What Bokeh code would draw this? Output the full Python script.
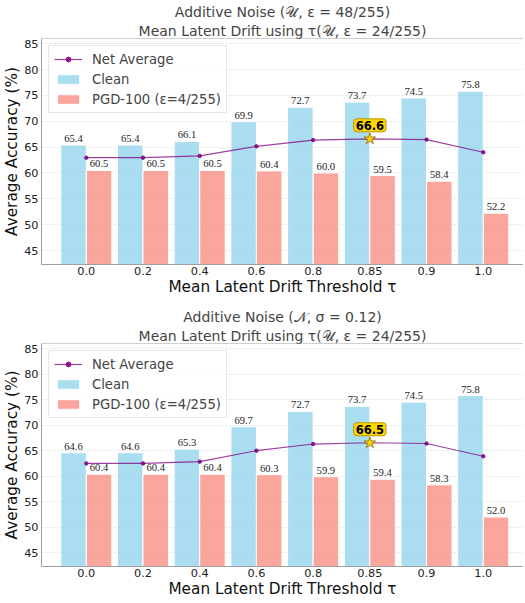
import numpy as np
from bokeh.plotting import figure
from bokeh.models import (ColumnDataSource, Range1d, FixedTicker, LabelSet, Label,
                          Span, Legend, LegendItem, Title)
from bokeh.layouts import column
from bokeh.embed import file_html
from bokeh.resources import INLINE

# ---- data ----
taus = ["0.0", "0.2", "0.4", "0.6", "0.8", "0.85", "0.9", "1.0"]

clean_u = [65.4, 65.4, 66.1, 69.9, 72.7, 73.7, 74.5, 75.8]
pgd_u = [60.5, 60.5, 60.5, 60.4, 60.0, 59.5, 58.4, 52.2]
net_u = [62.95, 62.95, 63.3, 65.15, 66.35, 66.6, 66.45, 64.0]

clean_n = [64.6, 64.6, 65.3, 69.7, 72.7, 73.7, 74.5, 75.8]
pgd_n = [60.4, 60.4, 60.4, 60.3, 59.9, 59.4, 58.3, 52.0]
net_n = [62.5, 62.5, 62.85, 65.0, 66.3, 66.55, 66.4, 63.9]

titles_u = ["Additive Noise (𝒰, ε = 48/255)", "Mean Latent Drift using τ(𝒰, ε = 24/255)"]
titles_n = ["Additive Noise (𝒩, σ = 0.12)", "Mean Latent Drift using τ(𝒰, ε = 24/255)"]
x_label = "Mean Latent Drift Threshold τ"
y_label = "Average Accuracy (%)"

y_ticks = [45, 50, 55, 60, 65, 70, 75, 80, 85]
y_min, y_max = 42.3, 86.0
x_min, x_max = -0.79, 7.71

FONT = "DejaVu Sans"
BLUE = "#87CEEB"
SALMON = "#FA8072"
PURPLE = "#800080"
SPINE = "#a0a0a0"
BAR_W = 0.45


def make_panel(titles, clean, pgd, net, frame_h, top_border):
    idx = np.arange(len(taus))
    p = figure(frame_width=482, frame_height=frame_h, output_backend="svg",
               toolbar_location=None,
               x_range=Range1d(x_min, x_max), y_range=Range1d(y_min, y_max),
               min_border_left=0, min_border_right=0, min_border_top=top_border,
               min_border_bottom=0)
    p.outline_line_color = None
    p.background_fill_color = "white"

    # titles (first added = closest to plot)
    p.title.text = titles[0]
    p.title.align = "center"
    p.title.text_font = FONT
    p.title.text_font_size = "14px"
    p.title.text_font_style = "normal"
    p.title.standoff = 2
    p.title.offset = 0
    t2 = Title(text=titles[1], align="center", text_font=FONT, text_font_size="14px",
               text_font_style="normal", standoff=0, offset=0)
    p.add_layout(t2, "above")

    src = ColumnDataSource(dict(
        xc=idx - BAR_W / 2, xp=idx + BAR_W / 2, x=idx,
        clean=clean, pgd=pgd, net=net,
        lc=[f"{v:.1f}" for v in clean], lp=[f"{v:.1f}" for v in pgd],
    ))

    r_clean = p.vbar(x="xc", top="clean", bottom=y_min - 5, width=BAR_W, source=src,
                     fill_color=BLUE, fill_alpha=0.7, line_color="white", line_width=1)
    r_pgd = p.vbar(x="xp", top="pgd", bottom=y_min - 5, width=BAR_W, source=src,
                   fill_color=SALMON, fill_alpha=0.7, line_color="white", line_width=1)
    r_line = p.line(x="x", y="net", source=src, line_color=PURPLE, line_alpha=0.75, line_width=1.2)
    r_dot = p.scatter(x="x", y="net", source=src, size=3.5, marker="circle",
                      fill_color=PURPLE, line_color=PURPLE, alpha=0.85)

    lab_kw = dict(text_font=FONT, text_font_size="10.6px", text_align="center",
                  text_baseline="bottom", y_offset=3, text_color="#222222")
    p.add_layout(LabelSet(x="xc", y="clean", text="lc", source=src, **lab_kw))
    p.add_layout(LabelSet(x="xp", y="pgd", text="lp", source=src, **lab_kw))

    # best net average
    b = int(np.argmax(net))
    p.scatter(x=[idx[b]], y=[net[b]], marker="star", size=12, fill_color="#FFD700",
              line_color="#8a6d00", line_width=0.8)
    p.add_layout(Label(x=idx[b], y=net[b], text=f"{net[b]:.1f}", y_offset=7,
                       text_align="center", text_baseline="bottom", text_font=FONT,
                       text_font_size="11.5px", text_font_style="bold", text_color="black",
                       background_fill_color="#FFD700", border_line_color="#b8960b",
                       border_line_width=1, padding=2, border_radius=3))

    # axes
    p.xaxis.ticker = FixedTicker(ticks=list(idx))
    p.xaxis.major_label_overrides = {int(i): t for i, t in zip(idx, taus)}
    p.yaxis.ticker = FixedTicker(ticks=y_ticks)
    for ax in (p.xaxis, p.yaxis):
        ax.axis_line_color = SPINE
        ax.axis_line_width = 1
        ax.major_tick_line_color = None
        ax.minor_tick_line_color = None
        ax.major_tick_out = 0
        ax.major_tick_in = 0
        ax.minor_tick_out = 0
        ax.minor_tick_in = 0
        ax.major_label_text_font = FONT
        ax.major_label_text_font_size = "11.3px"
        ax.major_label_text_color = "#222222"
        ax.axis_label_text_font = FONT
        ax.axis_label_text_font_size = "15.3px"
        ax.axis_label_text_font_style = "normal"
        ax.axis_label_text_color = "#111111"
    p.xaxis.major_label_standoff = 2
    p.xaxis.axis_label_standoff = 0
    p.yaxis.major_label_standoff = 3
    p.yaxis.axis_label_standoff = 0
    p.xaxis.axis_label = x_label
    p.yaxis.axis_label = y_label

    p.xgrid.grid_line_color = None
    p.ygrid.grid_line_color = "#d8d8d8"
    p.ygrid.grid_line_dash = "2 2"
    p.ygrid.grid_line_width = 0.8

    p.add_layout(Span(location=y_max, dimension="width", line_color=SPINE, line_width=1))

    legend = Legend(items=[
        LegendItem(label="Net Average", renderers=[r_line, r_dot]),
        LegendItem(label="Clean", renderers=[r_clean]),
        LegendItem(label="PGD-100 (ε=4/255)", renderers=[r_pgd]),
    ], location="top_left", margin=7, padding=5, spacing=4,
        glyph_width=28, glyph_height=12, label_standoff=10,
        label_text_font=FONT, label_text_font_size="13.2px", label_height=16,
        border_line_color="#d0d0d0", background_fill_alpha=0.85)
    p.add_layout(legend)
    return p


p1 = make_panel(titles_u, clean_u, pgd_u, net_u, 226, 0)
p2 = make_panel(titles_n, clean_n, pgd_n, net_n, 223, 45)
layout = column(p1, p2, spacing=0)

open("out.html", "w").write(file_html(layout, INLINE))
